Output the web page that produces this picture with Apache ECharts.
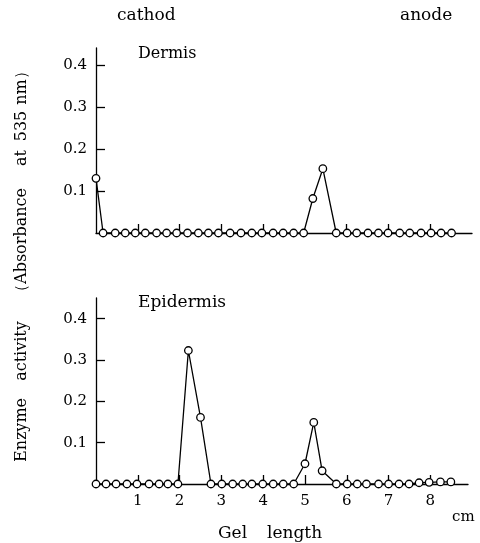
<!DOCTYPE html>
<html>
<head>
<meta charset="utf-8">
<script src="https://cdn.jsdelivr.net/npm/echarts@6/dist/echarts.min.js"></script>
<style>
  html, body { margin: 0; padding: 0; background: #fff; }
  #main { width: 480px; height: 543px; }
</style>
</head>
<body>
<div id="main"></div>
<script>
// Gel position (cm) and absorbance
const dermisX = [0, 0.17, 0.46, 0.70, 0.94, 1.18, 1.45, 1.69, 1.93, 2.19, 2.45, 2.69, 2.93, 3.21, 3.47, 3.73, 3.97, 4.24, 4.48, 4.73, 4.97, 5.19, 5.43, 5.75, 6.01, 6.24, 6.51, 6.76, 6.99, 7.27, 7.51, 7.78, 8.02, 8.26, 8.51]
const dermisY = [0.13, 0, 0, 0, 0, 0, 0, 0, 0, 0, 0, 0, 0, 0, 0, 0, 0, 0, 0, 0, 0, 0.082, 0.153, 0, 0, 0, 0, 0, 0, 0, 0, 0, 0, 0, 0]

const epidermisX = [0, 0.24, 0.48, 0.74, 0.98, 1.27, 1.51, 1.72, 1.96, 2.21, 2.50, 2.75, 3.01, 3.27, 3.51, 3.73, 3.99, 4.24, 4.48, 4.73, 5.00, 5.21, 5.41, 5.75, 6.01, 6.25, 6.47, 6.76, 7.00, 7.25, 7.49, 7.73, 7.97, 8.24, 8.49]
const epidermisY = [0, 0, 0, 0, 0, 0, 0, 0, 0, 0.323, 0.161, 0, 0, 0, 0, 0, 0, 0, 0, 0, 0.049, 0.149, 0.032, 0, 0, 0, 0, 0, 0, 0, 0, 0.003, 0.004, 0.005, 0.005]

// tick labels
const yTicks = [0.1, 0.2, 0.3, 0.4]
const xTicks = [1, 2, 3, 4, 5, 6, 7, 8]
const xTicksTop = [1, 2, 3, 4, 6, 7, 8]

// y axis title, word by word (the original is set with wide spacing)
const yTitleWords = ['Enzyme', 'activity', '（Absorbance', 'at', '535', 'nm）']
const yTitleCenters = [430, 351, 244, 158, 126, 84]

const font = '"DejaVu Serif", "Liberation Serif", serif'

function pairs(xs, ys) {
    return xs.map(function (x, i) { return [x, ys[i]] })
}

function yAxisFor(idx, max) {
    return {
        type: 'value', gridIndex: idx, min: 0, max: max,
        splitLine: { show: false },
        axisLine: { show: true, lineStyle: { color: '#000', width: 1.3 } },
        axisTick: { show: true, inside: true, length: 9, customValues: yTicks, lineStyle: { color: '#000', width: 1.3 } },
        axisLabel: { customValues: yTicks, margin: 9, color: '#000', fontFamily: font, fontSize: 15,
            formatter: function (v) { return v.toFixed(1) } }
    }
}

function seriesFor(idx, data) {
    return {
        type: 'line', xAxisIndex: idx, yAxisIndex: idx, data: data,
        symbol: 'circle', symbolSize: 7.5,
        itemStyle: { color: '#fff', borderColor: '#000', borderWidth: 1.3 },
        lineStyle: { color: '#000', width: 1.3 },
        z: 3
    }
}

function label(text, x, y, size) {
    return { type: 'text', x: x, y: y,
        style: { text: text, font: size + 'px ' + font, fill: '#000', textVerticalAlign: 'middle' } }
}

let myChart = echarts.init(document.getElementById('main'))

let graphics = [
    label('cathod', 117, 16, 17),
    label('anode', 400, 16, 17),
    label('Dermis', 138, 54, 16),
    label('Epidermis', 138, 303, 17),
    label('Gel', 218, 534, 17),
    label('length', 267, 534, 17),
    label('cm', 452, 517, 15)
]
yTitleWords.forEach(function (w, i) {
    graphics.push({ type: 'text', x: 22, y: yTitleCenters[i], rotation: Math.PI / 2,
        style: { text: w, font: '16px ' + font, fill: '#000', textAlign: 'center', textVerticalAlign: 'middle' } })
})

let option = {
    animation: false,
    backgroundColor: '#fff',
    grid: [
        { left: 96, top: 48, width: 376, height: 185, outerBoundsMode: 'none' },
        { left: 96, top: 298, width: 372, height: 186, outerBoundsMode: 'none' }
    ],
    xAxis: [
        {
            type: 'value', gridIndex: 0, min: 0, max: 9.0,
            splitLine: { show: false },
            axisLine: { lineStyle: { color: '#000', width: 1.3 } },
            axisTick: { inside: true, length: 9, customValues: xTicksTop, lineStyle: { color: '#000', width: 1.3 } },
            axisLabel: { show: false }
        },
        {
            type: 'value', gridIndex: 1, min: 0, max: 8.9,
            splitLine: { show: false },
            axisLine: { lineStyle: { color: '#000', width: 1.3 } },
            axisTick: { inside: true, length: 9, customValues: xTicks, lineStyle: { color: '#000', width: 1.3 } },
            axisLabel: { customValues: xTicks, margin: 10, color: '#000', fontFamily: font, fontSize: 15 }
        }
    ],
    yAxis: [yAxisFor(0, 0.44), yAxisFor(1, 0.45)],
    series: [seriesFor(0, pairs(dermisX, dermisY)), seriesFor(1, pairs(epidermisX, epidermisY))],
    graphic: graphics
}

myChart.setOption(option)
</script>
</body>
</html>
